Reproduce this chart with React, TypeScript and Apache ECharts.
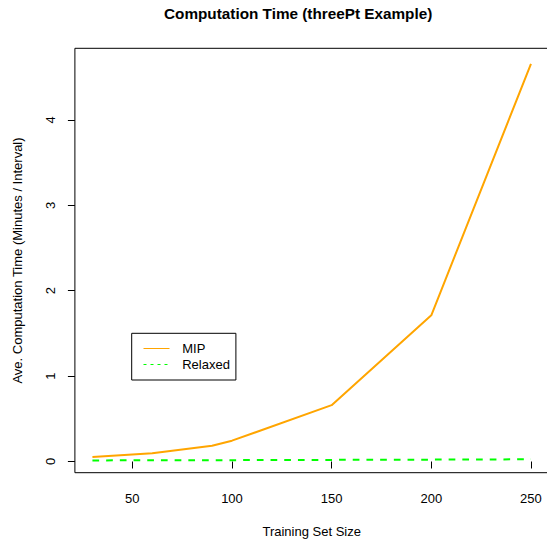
import React, { useEffect, useRef } from "react";
import * as echarts from "echarts";

const trainingSizes = [30, 60, 90, 100, 150, 200, 250];
const mipTimes = [0.053, 0.096, 0.185, 0.244, 0.66, 1.712, 4.655];
const relaxedTimes = [0.013, 0.014, 0.015, 0.016, 0.019, 0.022, 0.026];
const xTicks = [50, 100, 150, 200, 250];
const yTicks = [0, 1, 2, 3, 4];

const FONT = "'Liberation Sans', Arial, Helvetica, sans-serif";

export default function App() {
  const ref = useRef<HTMLDivElement>(null);
  useEffect(() => {
    document.body.style.margin = "0";
    const chart = echarts.init(ref.current!, null, { renderer: "svg" });
    const pairs = (ys: number[]) => trainingSizes.map((x, i) => [x, ys[i]]);
    chart.setOption({
      animation: false,
      backgroundColor: "#ffffff",
      textStyle: { fontFamily: FONT },
      title: {
        text: "Computation Time (threePt Example)",
        left: 164,
        top: 6,
        padding: 0,
        textStyle: { fontFamily: FONT, fontSize: 15.3, fontWeight: "bold", color: "#000" },
      },
      grid: {
        left: 74.9,
        top: 48.3,
        width: 473.6,
        height: 424.4,
        show: true,
        borderColor: "#000",
        borderWidth: 1,
        backgroundColor: "transparent",
        containLabel: false,
        outerBoundsMode: "none",
      },
      legend: {
        orient: "vertical",
        left: 131.7,
        top: 333.3,
        padding: [8.7, 6, 9, 11.3],
        itemWidth: 26,
        itemHeight: 14,
        itemGap: 3,
        borderColor: "#000",
        borderWidth: 1,
        backgroundColor: "#fff",
        itemStyle: { opacity: 0 },
        textStyle: { fontFamily: FONT, fontSize: 13, color: "#000", padding: [0, 0, 0, 7.7] },
        data: [
          { name: "MIP", lineStyle: { width: 1, type: "solid" } },
          { name: "Relaxed", lineStyle: { width: 1, type: [3, 4] } },
        ],
      },
      xAxis: {
        type: "value",
        min: 21.2,
        max: 258.8,
        name: "Training Set Size",
        nameLocation: "middle",
        nameGap: 52,
        nameTextStyle: { fontFamily: FONT, fontSize: 13, color: "#000" },
        axisLine: { show: false },
        splitLine: { show: false },
        axisTick: { show: true, inside: false, length: 7, lineStyle: { color: "#000" }, customValues: xTicks },
        axisLabel: { fontFamily: FONT, fontSize: 13, color: "#000", margin: 19, customValues: xTicks },
      },
      yAxis: {
        type: "value",
        min: -0.131,
        max: 4.838,
        name: "Ave. Computation Time (Minutes / Interval)",
        nameLocation: "middle",
        nameGap: 51,
        nameTextStyle: { fontFamily: FONT, fontSize: 13, color: "#000" },
        axisLine: { show: false },
        splitLine: { show: false },
        axisTick: { show: true, inside: false, length: 7, lineStyle: { color: "#000" }, customValues: yTicks },
        axisLabel: { fontFamily: FONT, fontSize: 13, color: "#000", margin: 18, rotate: 90, customValues: yTicks },
      },
      series: [
        {
          name: "MIP",
          type: "line",
          data: pairs(mipTimes),
          showSymbol: false,
          symbol: "none",
          lineStyle: { color: "#FFA500", width: 2 },
          itemStyle: { color: "#FFA500" },
        },
        {
          name: "Relaxed",
          type: "line",
          data: pairs(relaxedTimes),
          showSymbol: false,
          symbol: "none",
          lineStyle: { color: "#00FF00", width: 2, type: [6.7, 7] },
          itemStyle: { color: "#00FF00" },
        },
      ],
    });
    return () => chart.dispose();
  }, []);
  return <div ref={ref} style={{ width: 547, height: 539 }} />;
}
